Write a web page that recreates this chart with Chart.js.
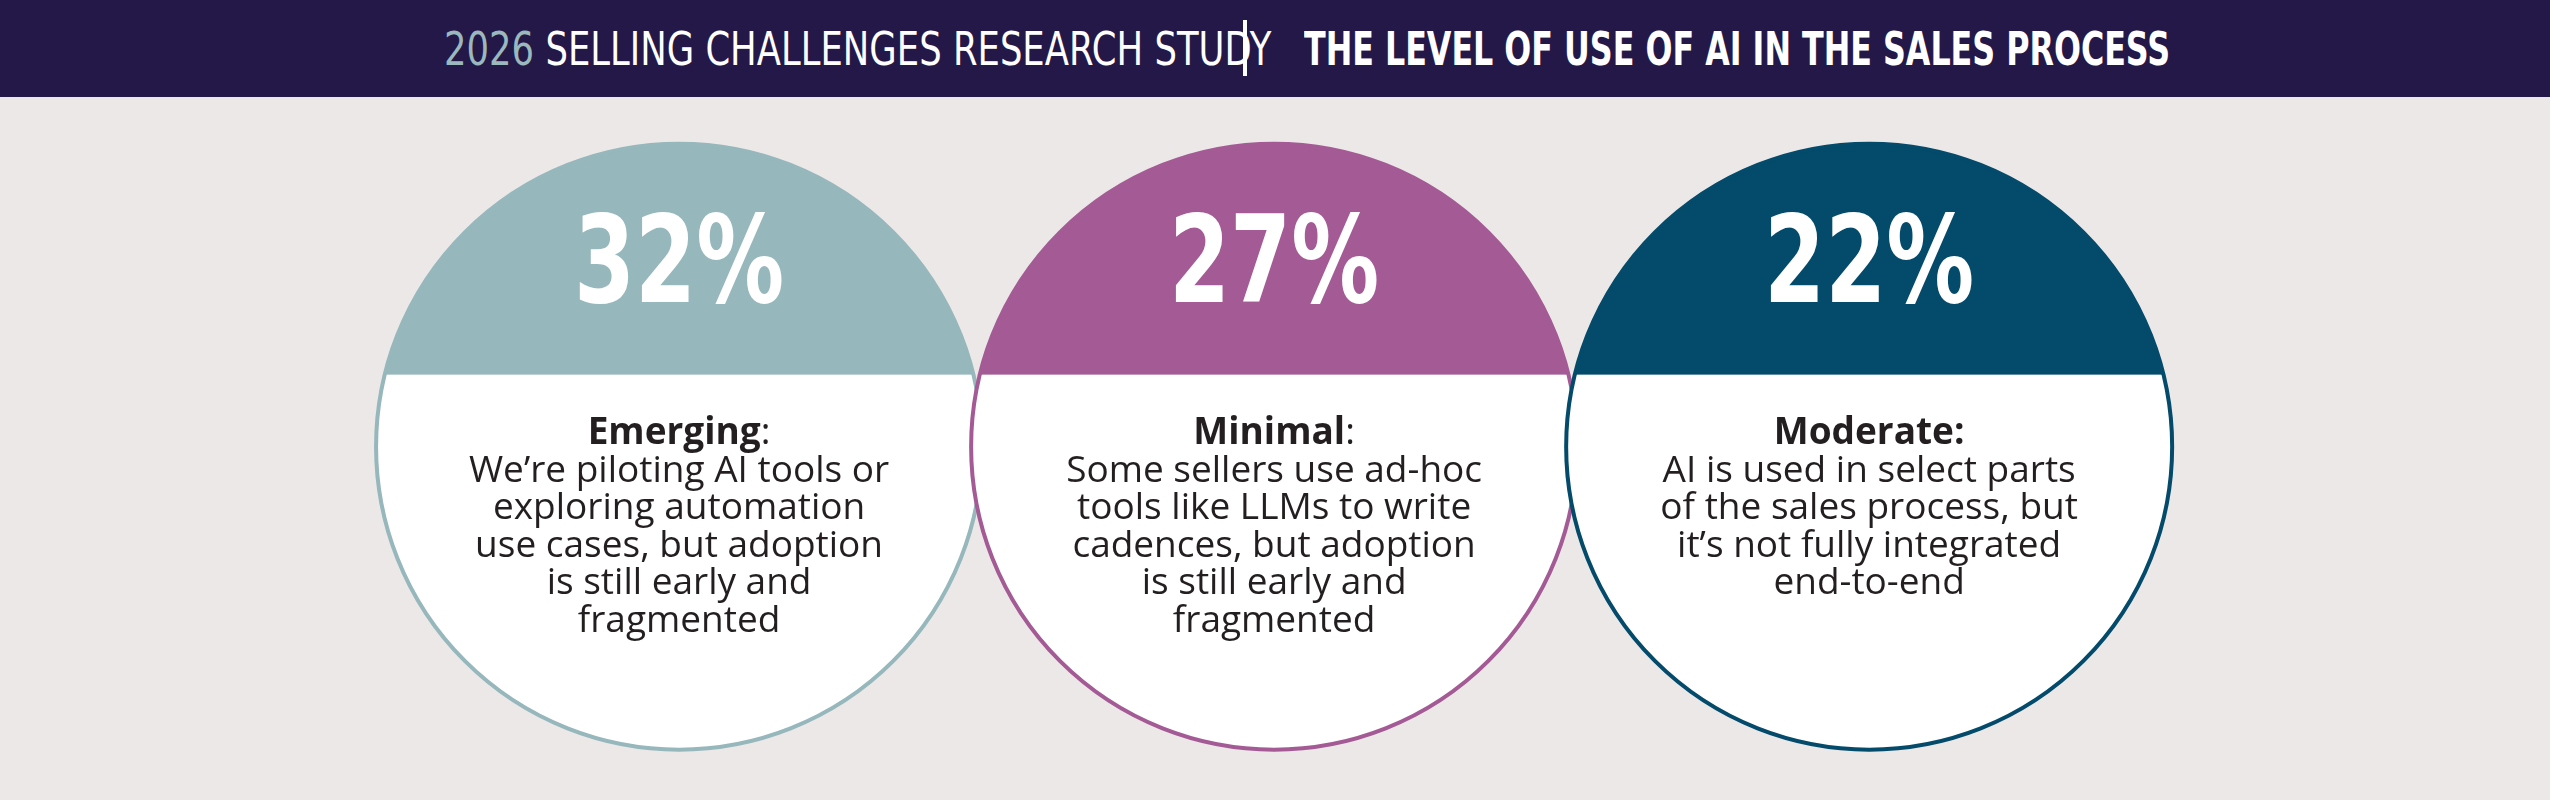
<!DOCTYPE html>
<html>
<head>
<meta charset="utf-8">
<script src="https://cdn.jsdelivr.net/npm/chart.js@4"></script>
<style>
  body { margin: 0; width: 2550px; height: 800px; background: #ece8e8; overflow: hidden; }
  .header { position: relative; height: 97px; background: #241848;
    font-family: "DejaVu Sans", sans-serif; font-size: 46px; color: #fff; }
  .header span.t { position: absolute; top: 22px; white-space: nowrap; transform-origin: left center; }
  .header .left { left: 444px; transform: scaleX(0.77); }
  .header .right { left: 1304px; font-weight: bold; transform: scaleX(0.69); }
  .header .yr { color: #9ab8bd; }
  .header .sep { position: absolute; left: 1243px; top: 20px; width: 4px; height: 56px; background: #fff; }
  #wrap { position: relative; width: 2550px; height: 703px; }
</style>
</head>
<body>
<div class="header">
  <span class="t left"><span class="yr">2026</span> SELLING CHALLENGES RESEARCH STUDY</span>
  <span class="sep"></span>
  <span class="t right">THE LEVEL OF USE OF AI IN THE SALES PROCESS</span>
</div>
<div id="wrap"><canvas id="chart" width="2550" height="703"></canvas></div>
<script>
const positions = [0, 1, 2];
const percents = [32, 27, 22];
const labelBold = ['Emerging', 'Minimal', 'Moderate:'];
const labelRest = [':', ':', ''];
const descriptions = [
  ['We\u2019re piloting AI tools or', 'exploring automation', 'use cases, but adoption', 'is still early and', 'fragmented'],
  ['Some sellers use ad-hoc', 'tools like LLMs to write', 'cadences, but adoption', 'is still early and', 'fragmented'],
  ['AI is used in select parts', 'of the sales process, but', 'it\u2019s not fully integrated', 'end-to-end']
];
const colors = ['#96b7bb', '#a45b95', '#034a6b'];

const circlePlugin = {
  id: 'circleCards',
  afterDatasetsDraw(chart) {
    const ctx = chart.ctx;
    chart.getDatasetMeta(0).data.forEach((el, i) => {
      const x = el.x, y = el.y, r = 303;
      ctx.save();
      ctx.beginPath();
      ctx.arc(x, y, r, 0, Math.PI * 2);
      ctx.fillStyle = '#ffffff';
      ctx.fill();
      ctx.clip();
      ctx.fillStyle = colors[i];
      ctx.fillRect(x - r, y - r, 2 * r, r - 72);
      ctx.restore();

      ctx.save();
      ctx.beginPath();
      ctx.arc(x, y, r, 0, Math.PI * 2);
      ctx.strokeStyle = colors[i];
      ctx.lineWidth = 4;
      ctx.stroke();

      // condensed percent figure
      ctx.save();
      ctx.translate(x, y - 176);
      ctx.scale(0.72, 1);
      ctx.fillStyle = '#ffffff';
      ctx.textAlign = 'center';
      ctx.textBaseline = 'middle';
      ctx.font = 'bold 122px "DejaVu Sans", sans-serif';
      ctx.fillText(percents[i] + '%', 0, 0);
      ctx.restore();

      ctx.fillStyle = '#231f20';
      ctx.textBaseline = 'middle';
      let ly = y - 13;
      ctx.font = 'bold 37px "Open Sans", sans-serif';
      const wb = ctx.measureText(labelBold[i]).width;
      ctx.font = '37px "Open Sans", sans-serif';
      const wr = ctx.measureText(labelRest[i]).width;
      ctx.textAlign = 'left';
      const sx = x - (wb + wr) / 2;
      ctx.font = 'bold 37px "Open Sans", sans-serif';
      ctx.fillText(labelBold[i], sx, ly);
      ctx.font = '37px "Open Sans", sans-serif';
      ctx.fillText(labelRest[i], sx + wb, ly);
      ctx.textAlign = 'center';
      descriptions[i].forEach(line => {
        ly += 37.5;
        ctx.fillText(line, x, ly);
      });
      ctx.restore();
    });
  }
};

new Chart(document.getElementById('chart'), {
  type: 'bubble',
  data: {
    datasets: [{
      data: positions.map((p, i) => ({ x: p, y: 0.5, v: percents[i] })),
      radius: 303,
      backgroundColor: 'rgba(0,0,0,0)',
      borderWidth: 0
    }]
  },
  options: {
    responsive: false,
    animation: false,
    events: [],
    layout: { padding: 0 },
    scales: {
      x: { type: 'linear', min: -0.632, max: 2.635, display: false },
      y: { type: 'linear', min: -0.04, max: 1.0, display: false }
    },
    plugins: { legend: { display: false }, tooltip: { enabled: false } }
  },
  plugins: [circlePlugin]
});
</script>
</body>
</html>
